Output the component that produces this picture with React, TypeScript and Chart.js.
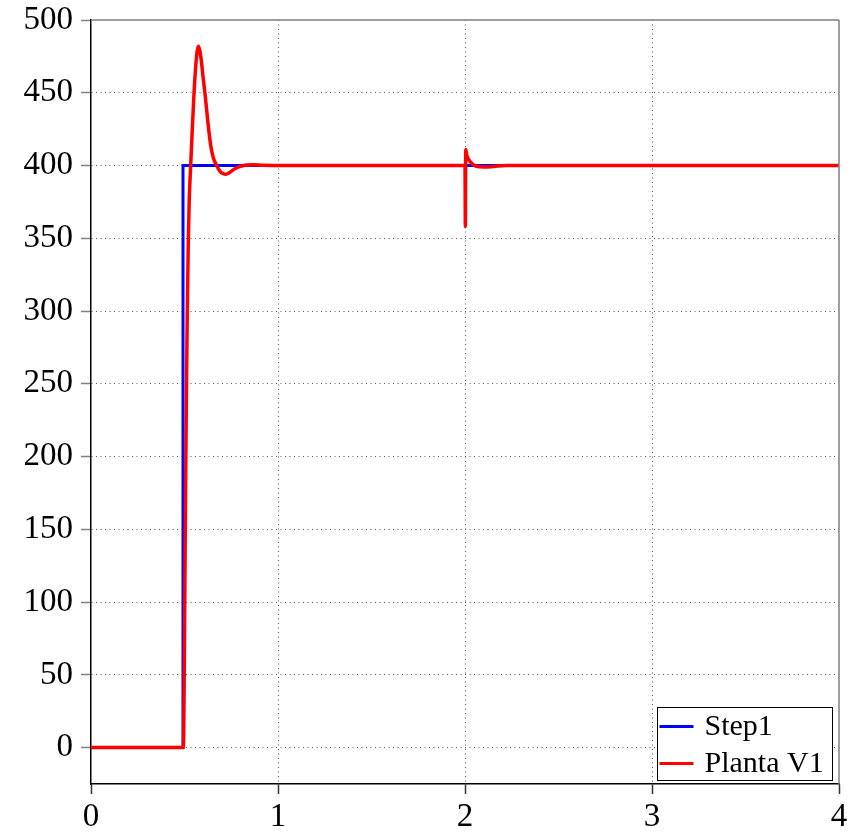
import React, { useEffect, useRef } from "react";
import { Chart, registerables } from "chart.js";

Chart.register(...registerables);

const stepTimes = [0, 0.492, 0.492, 4];
const stepValues = [0, 0, 400, 400];

const plantTimes = [
  0, 0.494, 0.498, 0.502, 0.506, 0.51, 0.515, 0.52, 0.525, 0.533, 0.54, 0.551, 0.56, 0.567,
  0.574, 0.582, 0.59, 0.6, 0.61, 0.625, 0.64, 0.655, 0.672, 0.69, 0.705, 0.722, 0.74, 0.76,
  0.79, 0.83, 0.87, 0.92, 1.0, 2.0, 2.002, 2.004, 2.01, 2.02, 2.04, 2.06, 2.1, 2.15, 2.22, 4.0,
];
const plantValues = [
  0, 0, 40, 110, 180, 240, 300, 345, 375, 400, 420, 450, 468, 478,
  482, 479, 472, 460, 449, 430, 414, 405, 400, 396, 394.5, 394, 395, 397,
  399, 400.3, 400.5, 400.2, 400, 400, 358, 411, 407, 404, 401, 399.5, 399, 399.3, 400, 400,
];

const xTicks = [0, 1, 2, 3, 4];
const yTicks = [0, 50, 100, 150, 200, 250, 300, 350, 400, 450, 500];
const legendLabels = ["Step1", "Planta V1"];
const seriesColors = ["#0000ff", "#ff0000"];

const FONT = "'Liberation Serif', 'Times New Roman', serif";

const frameLegendPlugin = {
  id: "frameLegend",
  afterDatasetsDraw(chart: any) {
    const { ctx, chartArea } = chart;
    const { left, right, top, bottom } = chartArea;
    ctx.save();
    ctx.strokeStyle = "#808080";
    ctx.lineWidth = 1.5;
    ctx.beginPath();
    ctx.moveTo(left, top);
    ctx.lineTo(right, top);
    ctx.moveTo(right, top);
    ctx.lineTo(right, bottom);
    ctx.stroke();

    const bx = Math.round(right - 182) + 0.5;
    const by = Math.round(bottom - 77) + 0.5;
    const bw = 175;
    const bh = 73;
    ctx.fillStyle = "#ffffff";
    ctx.fillRect(bx, by, bw, bh);
    ctx.strokeStyle = "#000000";
    ctx.lineWidth = 1;
    ctx.strokeRect(bx, by, bw, bh);
    const rows = [by + 19, by + 56];
    ctx.font = `30px ${FONT}`;
    ctx.textBaseline = "middle";
    ctx.textAlign = "left";
    legendLabels.forEach((lab, i) => {
      ctx.strokeStyle = seriesColors[i];
      ctx.lineWidth = 3;
      ctx.beginPath();
      ctx.moveTo(bx + 2, rows[i]);
      ctx.lineTo(bx + 36, rows[i]);
      ctx.stroke();
      ctx.fillStyle = "#000000";
      ctx.fillText(lab, bx + 47, rows[i] + 1);
    });
    ctx.restore();
  },
};

export default function App() {
  const ref = useRef<HTMLCanvasElement | null>(null);

  useEffect(() => {
    if (!ref.current) return;
    const chart = new Chart(ref.current, {
      type: "line",
      data: {
        datasets: [
          {
            label: legendLabels[1],
            data: plantTimes.map((t, i) => ({ x: t, y: plantValues[i] })),
            borderColor: seriesColors[1],
            borderWidth: 3.5,
            pointRadius: 0,
            fill: false,
            cubicInterpolationMode: "monotone",
            order: 0,
          },
          {
            label: legendLabels[0],
            data: stepTimes.map((t, i) => ({ x: t, y: stepValues[i] })),
            borderColor: seriesColors[0],
            borderWidth: 3,
            pointRadius: 0,
            fill: false,
            tension: 0,
            order: 1,
          },
        ],
      },
      options: {
        animation: false,
        responsive: false,
        maintainAspectRatio: false,
        layout: { padding: { left: 0, top: 20, right: 18, bottom: 0 } },
        plugins: { legend: { display: false }, tooltip: { enabled: false } },
        scales: {
          x: {
            type: "linear",
            min: 0,
            max: 4,
            afterBuildTicks: (s: any) => {
              s.ticks = xTicks.map((v) => ({ value: v }));
            },
            afterFit: (s: any) => {
              s.height = 49;
              s.paddingLeft = 0;
              s.paddingRight = 0;
            },
            ticks: {
              font: { family: FONT, size: 33 },
              color: "#000000",
              padding: 4,
              maxRotation: 0,
              autoSkip: false,
            },
            grid: {
              color: (c: any) => (c.tick && (c.tick.value === 0 || c.tick.value === 4) ? "rgba(0,0,0,0)" : "#555555"),
              lineWidth: 1,
              tickColor: "#333333",
              tickLength: 10,
              tickWidth: 1.5,
            },
            border: { display: true, color: "#000000", width: 1.5, dash: [1, 3.5] },
          },
          y: {
            type: "linear",
            min: -25,
            max: 500,
            afterBuildTicks: (s: any) => {
              s.ticks = yTicks.map((v) => ({ value: v }));
            },
            afterFit: (s: any) => {
              s.width = 91;
              s.paddingTop = 0;
              s.paddingBottom = 0;
            },
            ticks: {
              font: { family: FONT, size: 33 },
              color: "#000000",
              padding: 8,
              autoSkip: false,
            },
            grid: {
              color: (c: any) => (c.tick && c.tick.value === 500 ? "rgba(0,0,0,0)" : "#555555"),
              lineWidth: 1,
              tickColor: "#808080",
              tickLength: 10,
              tickWidth: 1.5,
            },
            border: { display: true, color: "#000000", width: 1.5, dash: [1, 3.5] },
          },
        },
      },
      plugins: [frameLegendPlugin],
    } as any);
    return () => chart.destroy();
  }, []);

  return (
    <div style={{ position: "absolute", left: 0, top: 0, width: 857, height: 833, background: "#fff" }}>
      <canvas ref={ref} width={857} height={833} style={{ width: 857, height: 833, display: "block" }} />
    </div>
  );
}
